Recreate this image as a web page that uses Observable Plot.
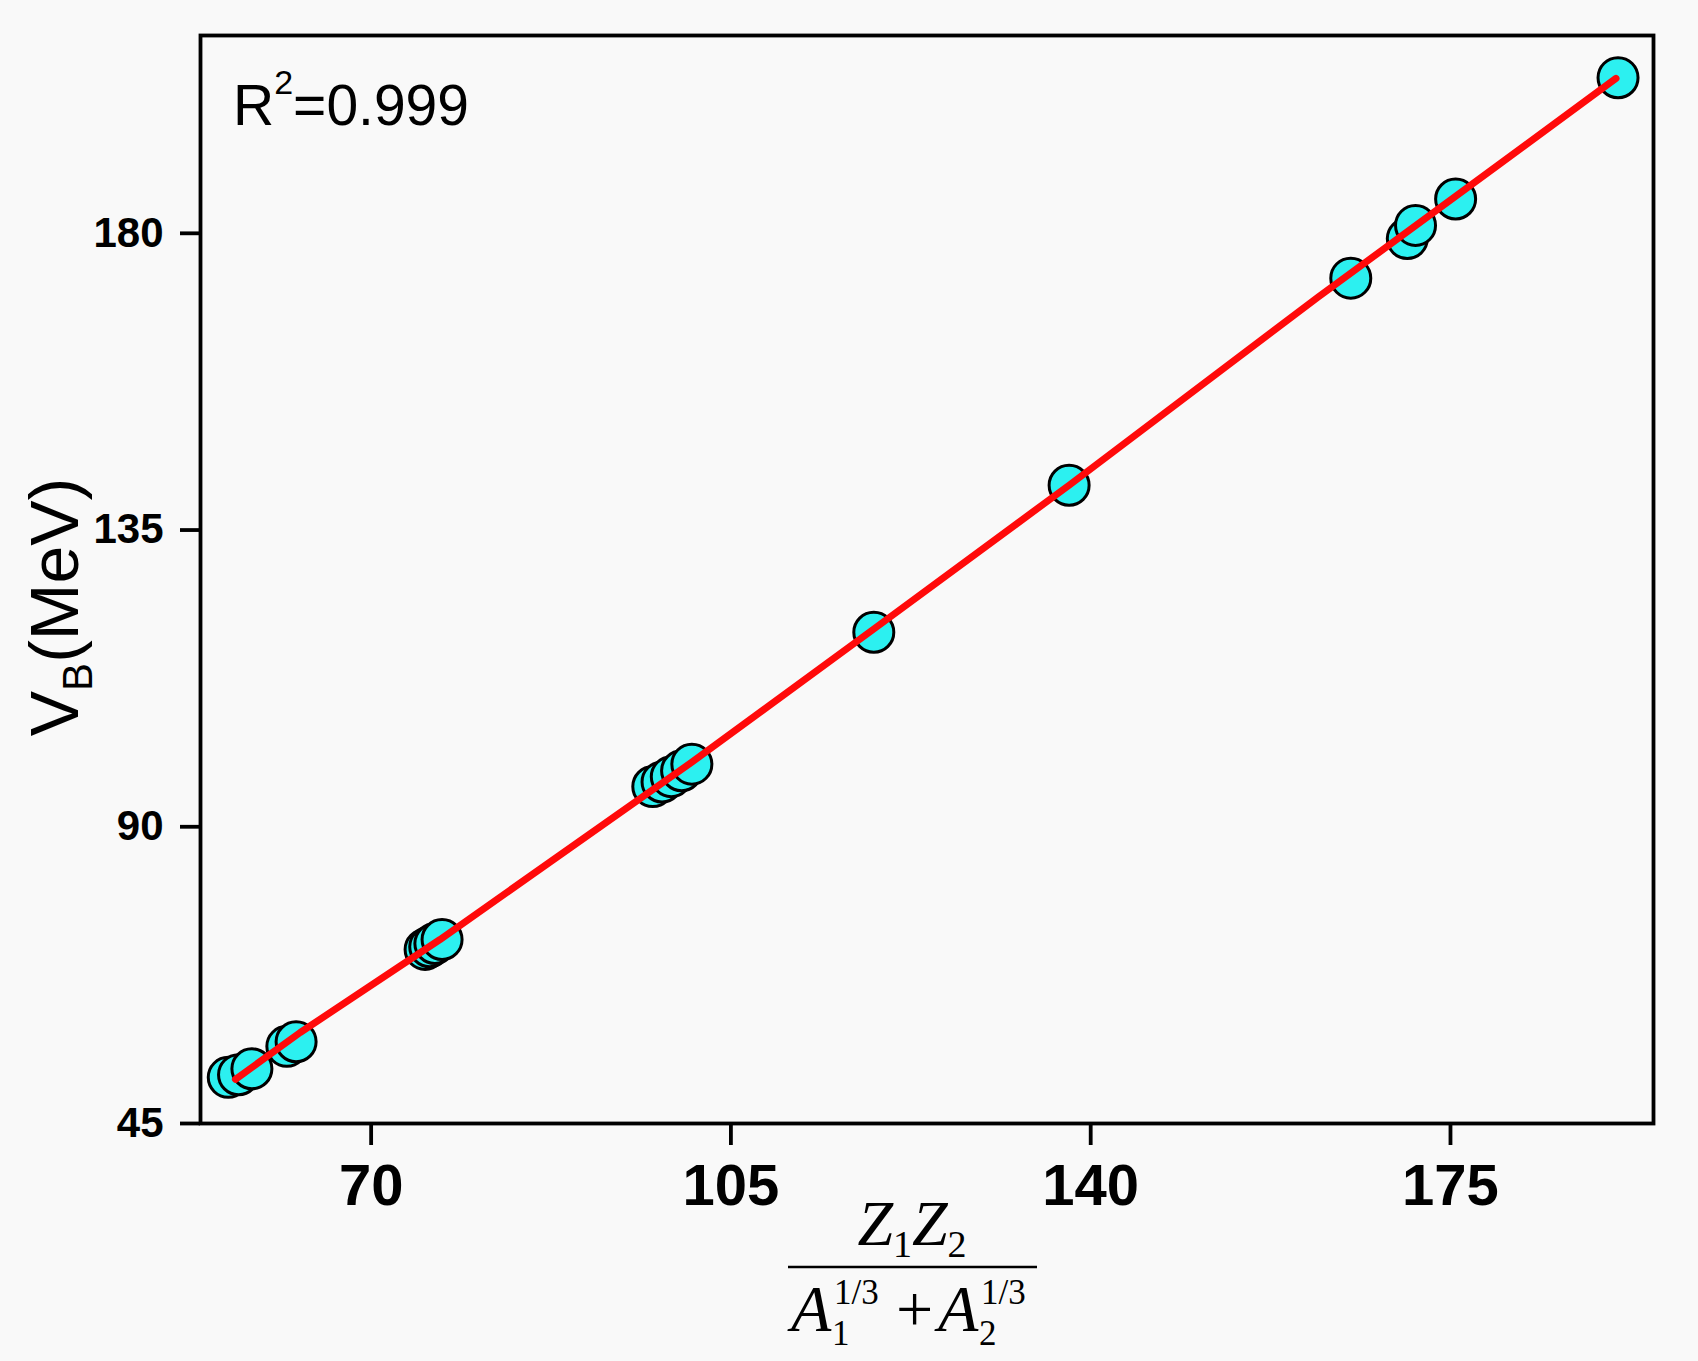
<!DOCTYPE html>
<html><head><meta charset="utf-8">
<script src="https://cdn.jsdelivr.net/npm/d3@7"></script>
<script src="https://cdn.jsdelivr.net/npm/@observablehq/plot@0.6"></script>
<style>
html,body{margin:0;padding:0;background:#f9f9f9;}
#chart svg{display:block;}
</style></head><body><div id="chart"></div>
<script>
// Tick values
const xTicks = [70, 105, 140, 175];
const yTicks = [45, 90, 135, 180];
// Data points: Z1Z2/(A1^1/3+A2^1/3) vs V_B (MeV)
const xVals = [56.1, 57.1, 58.4, 61.8, 62.7, 75.25, 75.7, 76.2, 76.9, 97.4, 98.3, 99.2, 100.2, 101.2, 118.9, 137.9, 165.3, 170.8, 171.6, 175.5, 191.3];
const yVals = [52.0, 52.4, 53.3, 56.7, 57.4, 71.4, 71.8, 72.3, 72.9, 96.1, 96.8, 97.6, 98.5, 99.5, 119.5, 141.8, 173.2, 179.2, 181.2, 185.2, 203.6];
// Fit line
const fitX = [56.8, 63.1, 76.7, 101.2, 118.9, 137.9, 162.1, 179.6, 191.1];
const fitY = [51.7, 58.8, 72.9, 99.8, 120.0, 141.8, 170.3, 190.3, 203.5];
const rSquared = "0.999";

const points = xVals.map((x, i) => ({x, y: yVals[i]}));
const fit = fitX.map((x, i) => ({x, y: fitY[i]}));

const W = 1698, H = 1361, mL = 200, mR = 45, mT = 35, mB = 238;
const sans = "'Liberation Sans', Arial, Helvetica, sans-serif";
const serif = "'Liberation Serif', 'Times New Roman', Times, serif";

const chart = Plot.plot({
  width: W, height: H,
  marginLeft: mL, marginRight: mR, marginTop: mT, marginBottom: mB,
  style: {background: "#f9f9f9", fontFamily: sans, color: "#000", overflow: "visible"},
  x: {domain: [53.4, 194.75], label: null},
  y: {domain: [45, 210], label: null},
  marks: [
    Plot.dot(points, {x: "x", y: "y", r: 20, fill: "#2cf0f0", stroke: "#000", strokeWidth: 3}),
    Plot.line(fit, {x: "x", y: "y", stroke: "#ff0a0a", strokeWidth: 7, strokeLinecap: "round"}),
    Plot.frame({stroke: "#000", strokeWidth: 3.8}),
    Plot.axisX({ticks: xTicks, tickSize: 22, tickPadding: 18, fontSize: 58, fontWeight: "bold", strokeWidth: 3.8, tickFormat: d => String(d)}),
    Plot.axisY({ticks: yTicks, tickSize: 20, tickPadding: 17, fontSize: 42, fontWeight: "bold", strokeWidth: 3.8, tickFormat: d => String(d)})
  ]
});
document.getElementById("chart").appendChild(chart);

const svg = d3.select(chart);

// R^2 annotation
const r2 = svg.append("text")
  .attr("x", mL + 33).attr("y", mT + 90).attr("text-anchor", "start")
  .attr("font-family", sans).attr("font-size", 57).attr("fill", "#000");
r2.append("tspan").text("R");
r2.append("tspan").attr("font-size", 34).attr("dy", -31).text("2");
r2.append("tspan").attr("dy", 31).text("=" + rSquared);

// Y axis label V_B(MeV)
const yl = svg.append("text")
  .attr("transform", `translate(78, ${(mT + H - mB) / 2 + 28}) rotate(-90)`)
  .attr("text-anchor", "middle")
  .attr("font-family", sans).attr("font-size", 68).attr("fill", "#000");
yl.append("tspan").text("V");
yl.append("tspan").attr("font-size", 42).attr("dy", 14).text("B");
yl.append("tspan").attr("dy", -14).text("(MeV)");

// X axis label: fraction Z1Z2 / (A1^1/3 + A2^1/3)
const xc = 912;
const g = svg.append("g").attr("font-family", serif).attr("fill", "#000");
const num = g.append("text").attr("x", xc).attr("y", H - mB + 122)
  .attr("text-anchor", "middle").attr("font-size", 64);
num.append("tspan").attr("font-style", "italic").text("Z");
num.append("tspan").attr("font-size", 38).attr("dy", 12).text("1");
num.append("tspan").attr("font-style", "italic").attr("dy", -12).text("Z");
num.append("tspan").attr("font-size", 38).attr("dy", 12).text("2");

g.append("line").attr("x1", xc - 124).attr("x2", xc + 125)
  .attr("y1", H - mB + 144).attr("y2", H - mB + 144)
  .attr("stroke", "#000").attr("stroke-width", 2.5);

const dBase = H - mB + 208;
const piece = (dx, dy, txt, size, italic) => g.append("text")
  .attr("x", xc + dx).attr("y", dBase + dy).attr("font-size", size)
  .attr("text-anchor", "start")
  .attr("font-style", italic ? "italic" : "normal").text(txt);
piece(-121, 0, "A", 66, true);
piece(-80, 14, "1", 35, false);
piece(-78, -27, "1/3", 35, false);
piece(-16, 0, "+", 66, false);
piece(26, 0, "A", 66, true);
piece(67, 14, "2", 35, false);
piece(69, -27, "1/3", 35, false);
</script></body></html>
